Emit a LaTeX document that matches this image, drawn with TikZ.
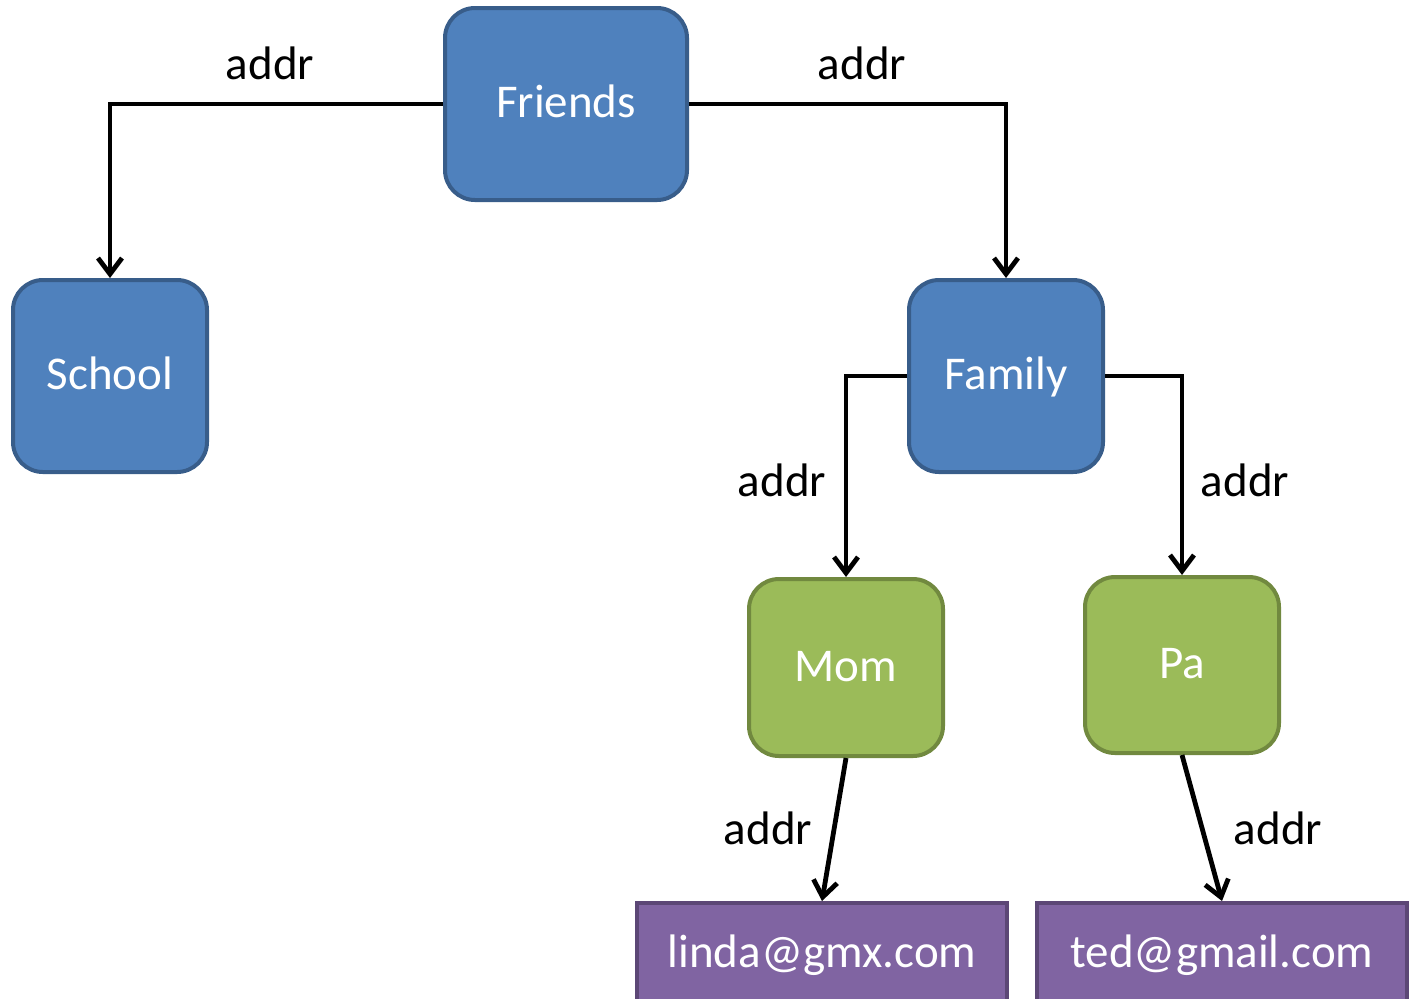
\documentclass[tikz,border=0pt]{standalone}
\usepackage{fontspec}
\setmainfont{Carlito}
\usetikzlibrary{arrows.meta}
\definecolor{bluefill}{HTML}{4F81BD}
\definecolor{blueline}{HTML}{385D8A}
\definecolor{greenfill}{HTML}{9BBB59}
\definecolor{greenline}{HTML}{71893F}
\definecolor{purplefill}{HTML}{8064A2}
\definecolor{purpleline}{HTML}{5C4776}
\tikzset{
  box/.style={draw, line width=2pt, rounded corners=15pt, text=white,
    inner sep=0pt, font=\fontsize{23.5}{28}\selectfont,
    text height=13.5pt, text depth=0pt},
  bluebox/.style={box, fill=bluefill, draw=blueline},
  greenbox/.style={box, fill=greenfill, draw=greenline},
  mailbox/.style={draw=purpleline, fill=purplefill, line width=2pt, text=white,
    inner sep=0pt, font=\fontsize{23.5}{28}\selectfont},
  link/.style={line width=2.4pt, -{Straight Barb[length=8pt,width=12pt,line width=2.4pt]}},
  lbl/.style={font=\fontsize{23.5}{28}\selectfont, text=black}
}
\begin{document}
\begin{tikzpicture}[x=0.5pt, y=-0.5pt]
\useasboundingbox (0,0) rectangle (1412,998);
% tree nodes
\node[bluebox, minimum width=121pt, minimum height=96pt] (friends) at (566,104) {Friends};
\node[bluebox, minimum width=97pt, minimum height=96pt] (school) at (110,376) {School};
\node[bluebox, minimum width=97pt, minimum height=96pt] (family) at (1006,376) {Family};
\node[greenbox, minimum width=97pt, minimum height=88.5pt] (mom) at (846,667.5) {Mom};
\node[greenbox, minimum width=97pt, minimum height=88pt] (pa) at (1182,665) {Pa};
\node[mailbox, minimum width=185pt, minimum height=52pt] (linda) at (822,955) {\raisebox{-2pt}{linda@gmx.com}};
\node[mailbox, minimum width=185pt, minimum height=52pt] (ted) at (1222,955) {\raisebox{-2pt}{ted@gmail.com}};
% connectors
\draw[link] (friends.west) -| (school.north);
\draw[link] (friends.east) -| (family.north);
\draw[link] (family.west) -| (mom.north);
\draw[link] (family.east) -| (pa.north);
\draw[link] (mom.south) -- (linda.north);
\draw[link] (pa.south) -- (ted.north);
% edge labels
\node[lbl] (l1) at (270,63) {addr};
\node[lbl] (l2) at (862,63) {addr};
\node[lbl] (l3) at (782,480) {addr};
\node[lbl] (l4) at (1245,480) {addr};
\node[lbl] (l5) at (768,828) {addr};
\node[lbl] (l6) at (1278,828) {addr};
\end{tikzpicture}
\end{document}
